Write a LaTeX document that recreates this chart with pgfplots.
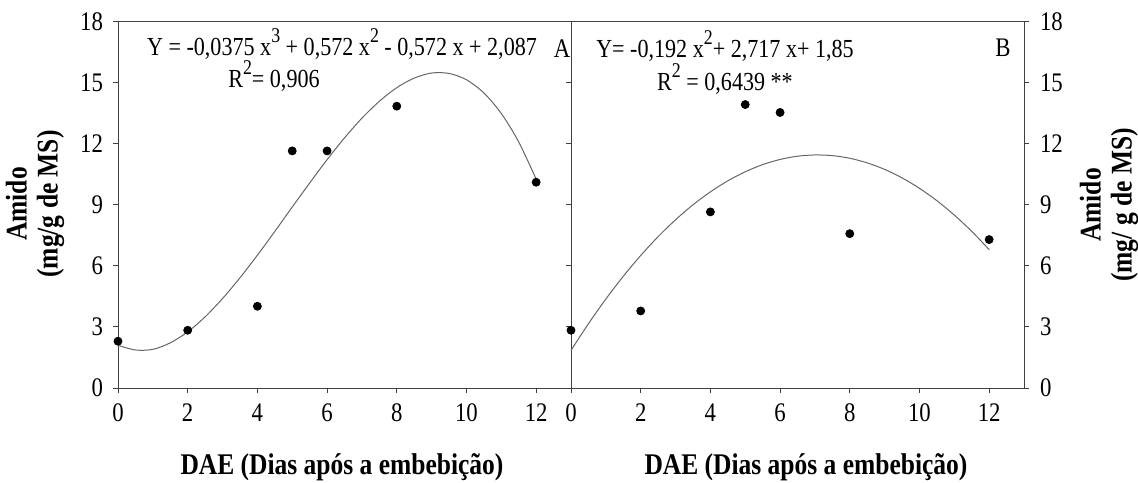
\documentclass[border=0pt]{standalone}
\usepackage{fontspec}
\setmainfont{Liberation Serif}[FakeStretch=0.85]
\usepackage{pgfplots}
\pgfplotsset{compat=1.18}
\newcommand{\tk}{\fontsize{13.4bp}{15bp}\selectfont}
\newcommand{\eq}{\fontsize{13bp}{15bp}\selectfont}
\newcommand{\lb}{\fontsize{15bp}{15.5bp}\selectfont\bfseries}
\newcommand{\sups}[1]{\raisebox{0.5em}{\fontsize{10.5bp}{11bp}\selectfont #1}}
\begin{document}
\begin{tikzpicture}
\path[use as bounding box] (-59bp,-47.5bp) rectangle (510bp,194bp);
\pgfplotsset{
  panel/.style={
    scale only axis, width=226.5bp, height=183bp,
    xmin=0, xmax=13, ymin=0, ymax=18,
    xtick={0,2,4,6,8,10,12}, ytick={0,3,6,9,12,15,18},
    xtick pos=lower, tick align=outside, major tick length=2.5bp,
    axis line style={line width=0.5bp, black!75},
    tick style={line width=0.5bp, black!75},
    ticklabel style={font=\tk},
    xticklabel style={yshift=-2bp},
    /pgf/number format/assume math mode=true,
    clip=false,
  },
  fit/.style={no marks, smooth, line width=0.5bp, black!60},
  pts/.style={only marks, mark=*, mark size=2bp, mark options={fill=black, draw=black}},
}
\begin{axis}[panel, at={(0,0)}, anchor=origin, ytick pos=left, yticklabel style={xshift=-1.5bp}]
\addplot[fit] coordinates {
(0,2.10) (0.5,1.87) (1,1.90) (1.5,2.22) (2,2.76) (2.5,3.50) (3,4.40) (3.5,5.42)
(4,6.53) (4.5,7.70) (5,8.90) (5.5,10.08) (6,11.23) (6.5,12.30) (7,13.27) (7.5,14.10)
(8,14.77) (8.5,15.24) (9,15.49) (9.5,15.47) (10,15.16) (10.5,14.51) (11,13.50) (11.5,12.10) (12,10.27)};
\addplot[pts] coordinates {(0,2.30) (2,2.84) (4,4.02) (5,11.66) (6,11.66) (8,13.86) (12,10.12)};
\end{axis}
\begin{axis}[panel, at={(226.5bp,0)}, anchor=origin, ytick pos=both, yticklabel pos=right, yticklabel style={xshift=2bp}]
\addplot[fit] coordinates {
(0,1.85) (0.5,3.161) (1,4.375) (1.5,5.494) (2,6.516) (2.5,7.443) (3,8.273) (3.5,9.008)
(4,9.646) (4.5,10.189) (5,10.635) (5.5,10.986) (6,11.240) (6.5,11.399) (7,11.461) (7.5,11.428)
(8,11.298) (8.5,11.073) (9,10.751) (9.5,10.334) (10,9.82) (10.5,9.211) (11,8.505) (11.5,7.704) (12,6.806)};
\addplot[pts] coordinates {(0,2.84) (2,3.79) (4,8.66) (5,13.94) (6,13.55) (8,7.59) (12,7.30)};
\end{axis}
% labels
\node[rotate=90, align=center, font=\lb] at (-41.5bp,92bp) {Amido\\(mg/g de MS)};
\node[rotate=90, align=center, font=\lb] at (495.5bp,91.5bp) {Amido\\(mg/ g de MS)};
\node[font=\lb] at (112bp,-39.5bp) {DAE (Dias após a embebição)};
\node[font=\lb] at (344bp,-39.5bp) {DAE (Dias após a embebição)};
\node[font=\eq, inner sep=1bp] at (112bp,172bp) {Y = -0,0375 x\sups{3} + 0,572 x\sups{2} - 0,572 x + 2,087};
\node[font=\eq, inner sep=1bp] at (78bp,156bp) {R\sups{2}= 0,906};
\node[font=\tk] at (222bp,169.75bp) {A};
\node[font=\eq, inner sep=1bp] at (303.5bp,171bp) {Y= -0,192 x\sups{2}+ 2,717 x+ 1,85};
\node[font=\eq, inner sep=1bp] at (303.5bp,154.5bp) {R\sups{2} = 0,6439 **};
\node[font=\tk] at (442.5bp,170.25bp) {B};
\end{tikzpicture}
\end{document}
